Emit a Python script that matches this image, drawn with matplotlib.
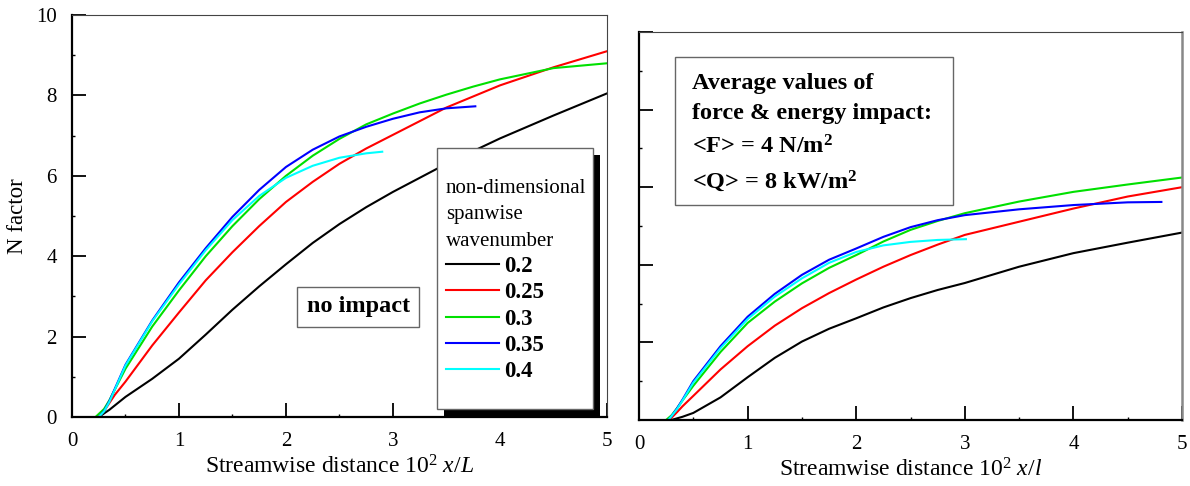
import matplotlib
matplotlib.use('Agg')
import matplotlib.pyplot as plt
from matplotlib import patches
from matplotlib.ticker import MultipleLocator

plt.rcParams['font.family'] = ['Liberation Serif', 'DejaVu Serif']
plt.rcParams['mathtext.fontset'] = 'custom'
plt.rcParams['mathtext.rm'] = 'Liberation Serif'
plt.rcParams['mathtext.it'] = 'Liberation Serif:italic'
plt.rcParams['mathtext.bf'] = 'Liberation Serif:bold'

wavenumbers = ['0.2', '0.25', '0.3', '0.35', '0.4']
colors = ['black', '#ff0000', '#00e000', '#0000ff', '#00ffff']

# left panel: no impact
left_x = [
    [0.25, 0.35, 0.5, 0.75, 1.0, 1.25, 1.5, 1.75, 2.0, 2.25, 2.5, 2.75, 3.0,
     3.5, 4.0, 4.5, 5.0],
    [0.25, 0.3, 0.35, 0.4, 0.5, 0.75, 1.0, 1.25, 1.5, 1.75, 2.0, 2.25, 2.5,
     2.75, 3.0, 3.5, 4.0, 4.5, 5.0],
    [0.22, 0.3, 0.35, 0.4, 0.5, 0.75, 1.0, 1.25, 1.5, 1.75, 2.0, 2.25, 2.5,
     2.75, 3.0, 3.25, 3.5, 3.75, 4.0, 4.5, 5.0],
    [0.25, 0.3, 0.35, 0.4, 0.5, 0.75, 1.0, 1.25, 1.5, 1.75, 2.0, 2.25, 2.5,
     2.75, 3.0, 3.25, 3.5, 3.77],
    [0.25, 0.3, 0.35, 0.4, 0.5, 0.75, 1.0, 1.25, 1.5, 1.75, 2.0, 2.25, 2.5,
     2.75, 2.9],
]
left_n = [
    [0, 0.18, 0.5, 0.95, 1.45, 2.05, 2.67, 3.25, 3.8, 4.33, 4.8, 5.22, 5.6,
     6.3, 6.93, 7.5, 8.05],
    [0, 0.15, 0.35, 0.55, 0.88, 1.78, 2.6, 3.4, 4.1, 4.75, 5.35, 5.85, 6.3,
     6.68, 7.02, 7.7, 8.25, 8.7, 9.1],
    [0, 0.2, 0.42, 0.68, 1.2, 2.25, 3.15, 4.0, 4.75, 5.42, 6.0, 6.5, 6.92,
     7.28, 7.55, 7.8, 8.02, 8.22, 8.4, 8.68, 8.8],
    [0, 0.15, 0.4, 0.7, 1.3, 2.4, 3.35, 4.2, 4.98, 5.65, 6.22, 6.65, 6.98,
     7.22, 7.42, 7.58, 7.68, 7.73],
    [0, 0.14, 0.38, 0.68, 1.28, 2.38, 3.3, 4.15, 4.9, 5.5, 5.95, 6.25, 6.45,
     6.56, 6.6],
]

# right panel: with force & energy impact
right_x = [
    [0.3, 0.4, 0.5, 0.75, 1.0, 1.25, 1.5, 1.75, 2.0, 2.25, 2.5, 2.75, 3.0,
     3.5, 4.0, 4.5, 5.0],
    [0.28, 0.35, 0.4, 0.5, 0.75, 1.0, 1.25, 1.5, 1.75, 2.0, 2.25, 2.5, 2.75,
     3.0, 3.5, 4.0, 4.5, 5.0],
    [0.25, 0.3, 0.35, 0.4, 0.5, 0.75, 1.0, 1.25, 1.5, 1.75, 2.0, 2.25, 2.5,
     2.75, 3.0, 3.5, 4.0, 4.5, 5.0],
    [0.27, 0.3, 0.35, 0.4, 0.5, 0.75, 1.0, 1.25, 1.5, 1.75, 2.0, 2.25, 2.5,
     2.75, 3.0, 3.5, 4.0, 4.5, 4.81],
    [0.27, 0.3, 0.35, 0.4, 0.5, 0.75, 1.0, 1.25, 1.5, 1.75, 2.0, 2.25, 2.5,
     2.75, 3.01],
]
right_n = [
    [0, 0.08, 0.18, 0.58, 1.1, 1.6, 2.02, 2.35, 2.62, 2.9, 3.14, 3.35, 3.53,
     3.95, 4.3, 4.57, 4.83],
    [0, 0.2, 0.35, 0.62, 1.3, 1.9, 2.43, 2.88, 3.27, 3.62, 3.95, 4.25, 4.52,
     4.77, 5.11, 5.45, 5.76, 6.0],
    [0, 0.12, 0.3, 0.5, 0.88, 1.75, 2.5, 3.05, 3.52, 3.92, 4.25, 4.6, 4.9,
     5.13, 5.33, 5.63, 5.88, 6.07, 6.25],
    [0, 0.1, 0.3, 0.52, 1.0, 1.9, 2.66, 3.25, 3.74, 4.13, 4.42, 4.72, 4.97,
     5.15, 5.28, 5.43, 5.54, 5.61, 5.62],
    [0, 0.1, 0.28, 0.5, 0.96, 1.85, 2.6, 3.18, 3.65, 4.05, 4.33, 4.5, 4.59,
     4.64, 4.66],
]

fig = plt.figure(figsize=(11.9, 4.86), dpi=100)
ax1 = fig.add_axes([0.0605, 0.142, 0.4495, 0.827])
ax2 = fig.add_axes([0.537, 0.136, 0.4563, 0.798])


def style_axes(ax, show_ylabels=True):
    ax.set_xlim(0, 5)
    ax.set_ylim(0, 10)
    ax.xaxis.set_major_locator(MultipleLocator(1))
    ax.xaxis.set_minor_locator(MultipleLocator(0.5))
    ax.yaxis.set_major_locator(MultipleLocator(2))
    ax.yaxis.set_minor_locator(MultipleLocator(1))
    ax.tick_params(which='both', direction='in', top=False, right=False,
                   labelsize=15, pad=11)
    ax.tick_params(which='major', length=10, width=1.3)
    ax.tick_params(which='minor', length=2.5, width=1.0)
    if not show_ylabels:
        ax.tick_params(axis='y', labelleft=False)
    for s in ['left', 'bottom']:
        ax.spines[s].set_linewidth(1.6)
    for s in ['top', 'right']:
        ax.spines[s].set_linewidth(0.8)
        ax.spines[s].set_color('#444444')


for xs, ns, c, lab in zip(left_x, left_n, colors, wavenumbers):
    ax1.plot(xs, ns, color=c, lw=1.5, label=lab)
for xs, ns, c in zip(right_x, right_n, colors):
    ax2.plot(xs, ns, color=c, lw=1.5)

style_axes(ax1)
style_axes(ax2, show_ylabels=False)
ax2.spines['right'].set_linewidth(1.8)
ax2.spines['right'].set_color('#888888')

ax1.set_xlabel(r'Streamwise distance 10$^2$ $x/L$', fontsize=17, labelpad=3)
ax2.set_xlabel(r'Streamwise distance 10$^2$ $x/l$', fontsize=17, labelpad=3)
ax1.set_ylabel('N factor', fontsize=16.5)
ax1.yaxis.set_label_coords(-0.082, 0.5)

# legend box with drop shadow
shadow = patches.Rectangle((0.682 + 0.0131, 0.02 - 0.0174), 0.2916, 0.649,
                           transform=ax1.transAxes, facecolor='black',
                           edgecolor='none', zorder=5)
box = patches.Rectangle((0.682, 0.02), 0.2916, 0.649, transform=ax1.transAxes,
                        facecolor='white', edgecolor='#666666', lw=1.0,
                        zorder=6)
ax1.add_patch(shadow)
ax1.add_patch(box)
leg = ax1.legend(loc='upper left', bbox_to_anchor=(0.699, 0.592),
                 frameon=False, borderpad=0, borderaxespad=0,
                 handlelength=2.3, handletextpad=0.25, labelspacing=0.23,
                 title='non-dimensional\nspanwise\nwavenumber',
                 alignment='left', prop={'size': 16.5, 'weight': 'bold'},
                 title_fontproperties={'size': 15})
leg.get_title().set_linespacing(1.52)
leg.set_zorder(7)

ax1.text(0.535, 0.274, 'no impact', transform=ax1.transAxes, fontsize=17.5,
         fontweight='bold', ha='center', va='center', zorder=6,
         bbox=dict(boxstyle='square,pad=0.4', facecolor='white',
                   edgecolor='#666666', lw=1.0))

# annotation box on the right panel
ax2.add_patch(patches.Rectangle((0.0663, 0.554), 0.512, 0.381,
                                transform=ax2.transAxes, facecolor='white',
                                edgecolor='#666666', lw=1.0, zorder=6))
info_lines = ['Average values of', 'force & energy impact:',
              '<F> = 4 N/m$^\\mathbf{2}$', '<Q> = 8 kW/m$^\\mathbf{2}$']
info_y = [0.868, 0.79, 0.705, 0.615]
for txt, yy in zip(info_lines, info_y):
    ax2.text(0.0976, yy, txt, transform=ax2.transAxes, fontsize=17.5,
             fontweight='bold', ha='left', va='center', zorder=7)

plt.savefig('out.png', dpi=100)
